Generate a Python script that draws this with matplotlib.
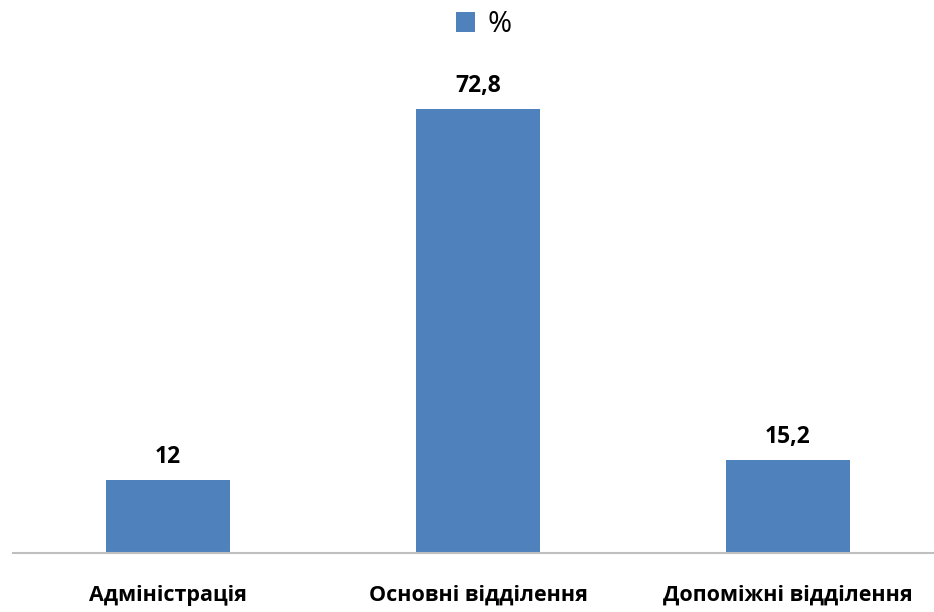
import matplotlib.pyplot as plt

categories = ['Адміністрація', 'Основні відділення', 'Допоміжні відділення']
values = [12, 72.8, 15.2]
value_labels = ['12', '72,8', '15,2']
series_name = '%'

plt.rcParams['font.family'] = ['Open Sans', 'DejaVu Sans']

fig = plt.figure(figsize=(9.34, 6.12), dpi=100)
ax = fig.add_axes([13 / 934, 59 / 612, 930 / 934, 488 / 612])

x = [0.5, 1.5, 2.5]
bars = ax.bar(x, values, width=0.4, color='#4F81BD', label=series_name)

for b, lab in zip(bars, value_labels):
    ax.annotate(lab, (b.get_x() + b.get_width() / 2, b.get_height()),
                xytext=(0, 8), textcoords='offset points',
                ha='center', va='bottom', fontsize=16.5, fontweight='bold')

ax.set_xlim(0, 3)
ax.set_ylim(0, 80)
ax.set_xticks(x)
ax.set_xticklabels(categories, fontsize=15.5, fontweight='bold')
ax.tick_params(axis='x', length=0, pad=23)
ax.set_yticks([])
for s in ['top', 'right', 'left']:
    ax.spines[s].set_visible(False)
ax.spines['bottom'].set_color('#BFBFBF')
ax.spines['bottom'].set_linewidth(1.5)

fig.legend(loc='upper center', bbox_to_anchor=(0.518, 1.026), frameon=False,
           fontsize=21, handlelength=0.65, handleheight=0.65, handletextpad=0.45)

fig.savefig('out.png', dpi=100)
